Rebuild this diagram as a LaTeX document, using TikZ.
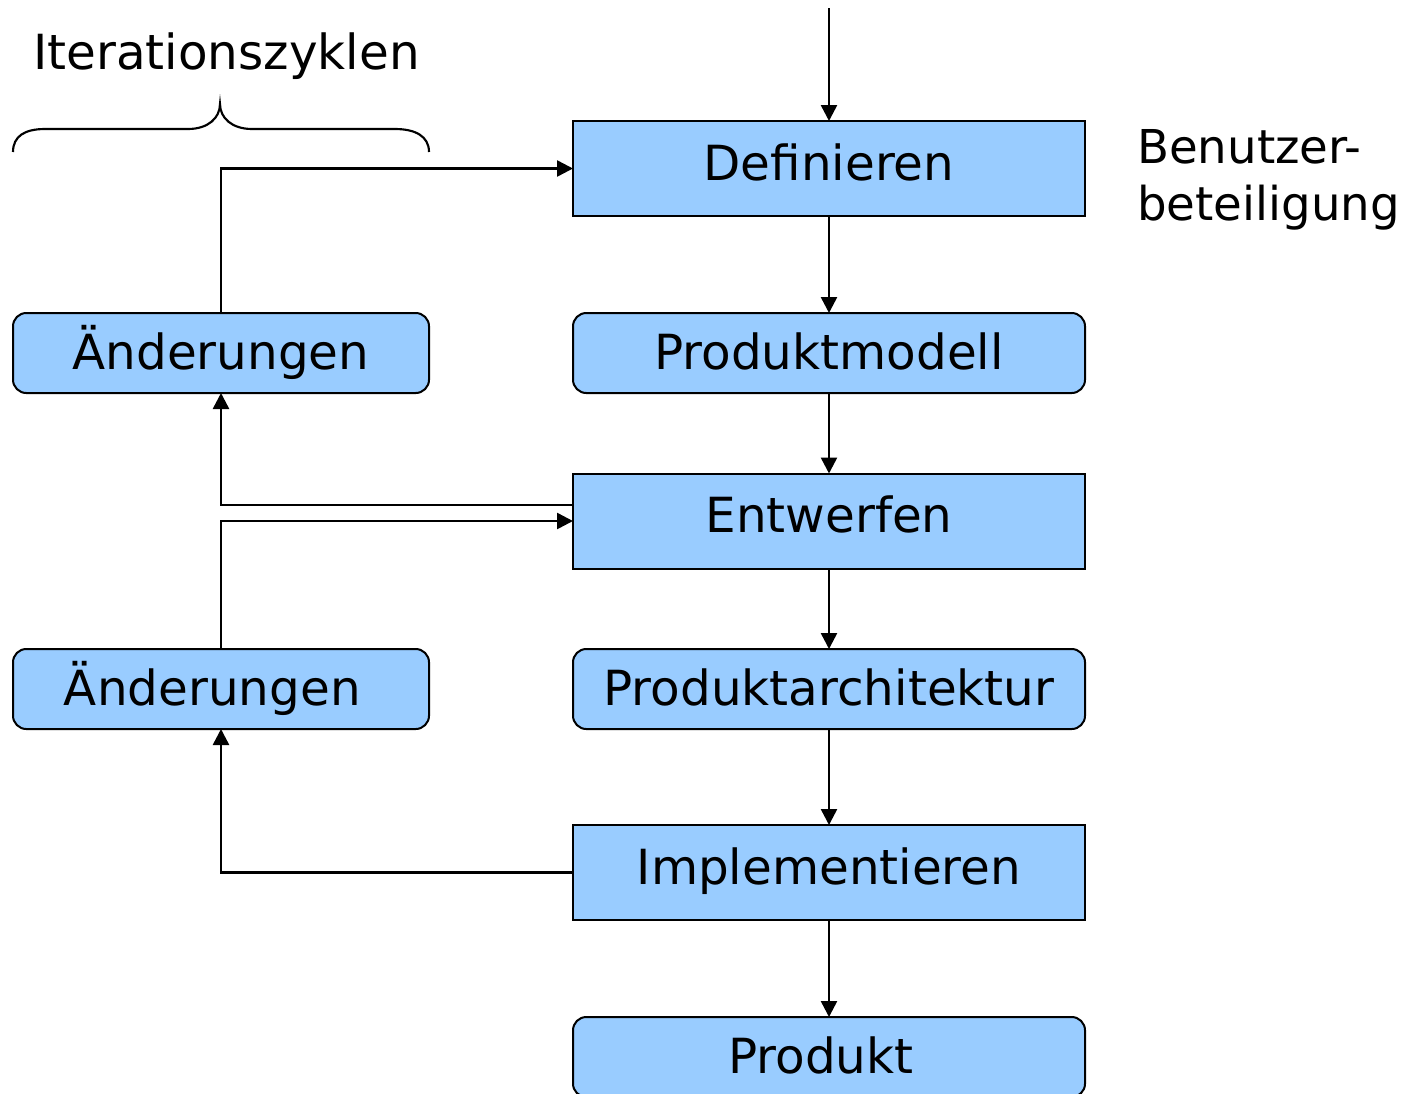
\documentclass[tikz,border=0pt]{standalone}
\usepackage{fontspec}
\setmainfont{DejaVu Sans}
\usetikzlibrary{arrows.meta}
\definecolor{boxblue}{HTML}{99CCFF}
\begin{document}
\begin{tikzpicture}[x=0.75pt,y=-0.75pt,
  font=\fontsize{36.3}{44}\selectfont,
  box/.style={draw=black, line width=1.5pt, fill=boxblue, inner sep=0pt,
    outer sep=0pt, minimum width=384pt, text height=33pt},
  flatbox/.style={box, minimum height=71.25pt, text depth=15.5pt},
  roundbox/.style={box, rounded corners=10pt, minimum height=60pt, text depth=9pt},
  sidebox/.style={roundbox, minimum width=312pt},
  plain/.style={inner sep=0pt, anchor=base west},
  sidenote/.style={plain, font=\fontsize{35}{42}\selectfont},
  arr/.style={line width=1.9pt, -{Triangle[length=12pt,width=12pt]}},
  bracestyle/.style={line width=1.6pt}]

\useasboundingbox (0,0) rectangle (1405,1093);
\clip (0,0) rectangle (1405,1093);

% main process column
\node[flatbox]  (def)  at (829,168.5) {Definieren};
\node[roundbox] (pm)   at (829,353)   {Produktmodell};
\node[flatbox]  (ent)  at (829,521)   {Entwerfen};
\node[roundbox] (pa)   at (829,689)   {Produktarchitektur};
\node[flatbox]  (imp)  at (829,872.5) {Implementieren};
\node[roundbox] (prod) at (829,1057)  {Produkt\kern12pt};

% change loops
\node[sidebox] (ch1) at (221,353) {Änderungen};
\node[sidebox] (ch2) at (221,689) {Änderungen\kern13pt};

% side labels
\node[plain] (iter)  at (33,69)    {Iterationszyklen};
\node[sidenote] (user1) at (1137,163) {Benutzer-};
\node[sidenote] (user2) at (1137,220) {beteiligung};

% brace over the iteration loops
\draw[bracestyle] (13,152) .. controls (13,136) and (25,129) .. (45,129)
  -- (188,129) .. controls (208,129) and (220,118) .. (220,104)
  .. controls (220,118) and (232,129) .. (252,129)
  -- (395,129) .. controls (415,129) and (429,136) .. (429,152);

% forward flow
\coordinate (start) at (829,8);
\draw[arr] (start) -- (def.north);
\draw[arr] (def) -- (pm);
\draw[arr] (pm) -- (ent);
\draw[arr] (ent) -- (pa);
\draw[arr] (pa) -- (imp);
\draw[arr] (imp) -- (prod);

% feedback paths
\draw[arr] (ch1.north) |- (def.west);
\draw[arr] ([yshift=12pt]ent.west) -| (ch1.south);
\draw[arr] (ch2.north) |- (ent.west);
\draw[arr] (imp.west) -| (ch2.south);
\end{tikzpicture}
\end{document}
